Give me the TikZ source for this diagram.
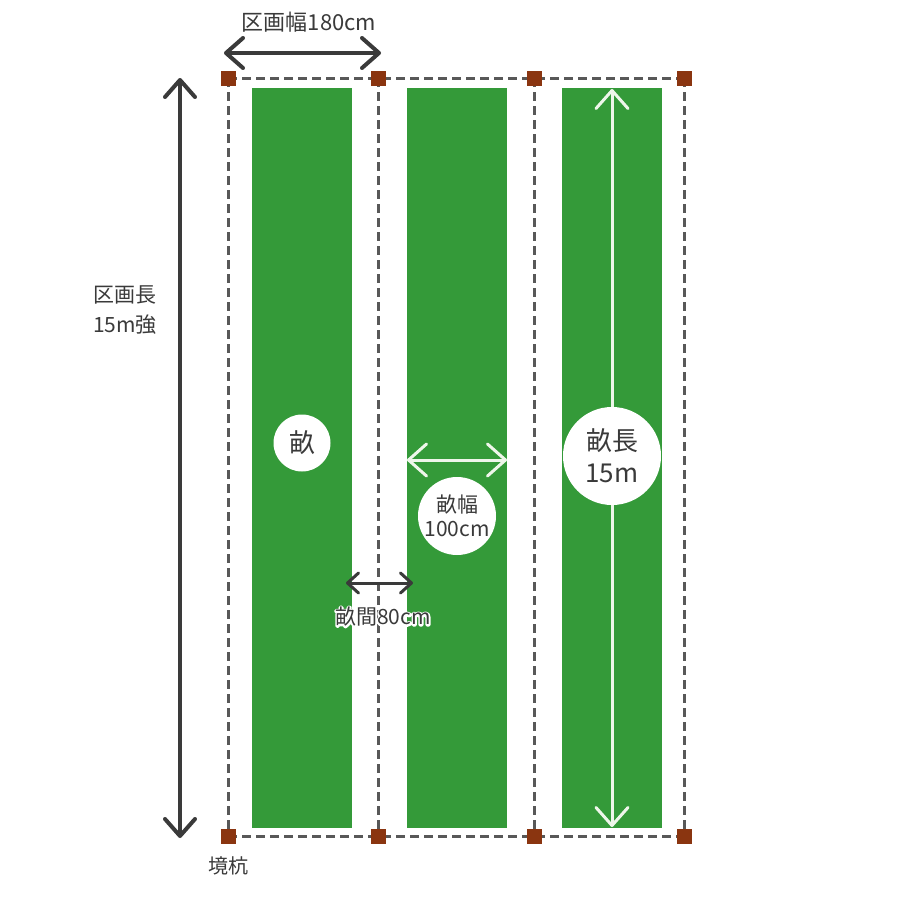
\documentclass[tikz,border=0pt]{standalone}
\usepackage{fontspec}
\setmainfont{Noto Sans CJK JP}
\usetikzlibrary{arrows.meta,positioning}
\definecolor{unegreen}{HTML}{349A39}
\definecolor{kuibrown}{HTML}{8A3510}
\definecolor{sumi}{HTML}{3A3A3A}
\definecolor{shiro}{HTML}{EEF6EA}
% white halo behind a text: stroked copy, then the normal text
\newcommand\fuchi[1]{\makebox[0pt][l]{\special{pdf:literal direct 1 1 1 RG 3.4 w 1 j 1 Tr}#1\special{pdf:literal direct 0 Tr}}#1}
\tikzset{
  une/.style={fill=unegreen,draw=none,minimum width=100pt,minimum height=740pt,inner sep=0pt},
  kui/.style={fill=kuibrown,draw=none,minimum size=15pt,inner sep=0pt},
  kukaku/.style={draw=sumi!85,line width=3pt,dash pattern=on 9pt off 5pt},
  yajirushi/.style={draw=sumi,line width=4pt,{Straight Barb[length=17pt,width=30pt,line width=4pt,round]}-{Straight Barb[length=17pt,width=30pt,line width=4pt,round]}},
  koyaji/.style={draw=sumi,line width=3pt,{Straight Barb[length=11pt,width=20pt,line width=3pt,round]}-{Straight Barb[length=11pt,width=20pt,line width=3pt,round]}},
  shiroyaji/.style={draw=shiro,line width=3pt,{Straight Barb[length=18pt,width=32pt,line width=3pt,round]}-{Straight Barb[length=18pt,width=32pt,line width=3pt,round]}},
  maru/.style={circle,fill=white,draw=none,inner sep=0pt,align=center,text=sumi},
  moji/.style={text=sumi,inner sep=0pt,align=center},
}

\begin{document}
\begin{tikzpicture}[x=1pt,y=-1pt]
  \useasboundingbox (0,0) rectangle (900,900);
  \fill[white] (0,0) rectangle (900,900);

  % beds
  \node[une] (u1) at (302,458) {};
  \node[une] (u2) at (457,458) {};
  \node[une] (u3) at (612,458) {};

  % boundary pegs
  \coordinate (k1t) at (228,78);  \coordinate (k2t) at (378,78);
  \coordinate (k3t) at (534,78);  \coordinate (k4t) at (684,78);
  \coordinate (k1b) at (228,836); \coordinate (k2b) at (378,836);
  \coordinate (k3b) at (534,836); \coordinate (k4b) at (684,836);
  \draw[kukaku] (k1t) -- (k4t);
  \draw[kukaku] (k1b) -- (k4b);
  \foreach \i in {1,...,4}
    \draw[kukaku] (k\i t) -- (k\i b);
  \foreach \k in {k1t,k2t,k3t,k4t,k1b,k2b,k3b,k4b}
    \node[kui] at (\k) {};

  % plot length
  \coordinate (hl1) at (180,78); \coordinate (hl2) at (180,838);
  \draw[yajirushi] (hl1) -- (hl2);
  \node[moji,font=\fontsize{21}{30}\selectfont] (kl) at (125,310) {区画長\\15m強};

  % plot width
  \coordinate (hw1) at (224,53); \coordinate (hw2) at (381,53);
  \draw[yajirushi] (hw1) -- (hw2);
  \node[moji,font=\fontsize{22}{24}\selectfont] (kw) at (309,22) {区画幅180cm};

  \node[moji,font=\fontsize{20}{22}\selectfont,below=20pt of k1b] (kui) {境杭};

  % bed
  \node[maru,minimum size=57pt,font=\fontsize{26}{28}\selectfont] (m1) at (302,443) {畝};

  % bed width
  \coordinate (uw1) at (407,460); \coordinate (uw2) at (507,460);
  \draw[shiroyaji] (uw1) -- (uw2);
  \node[maru,minimum size=78pt,font=\fontsize{21}{24}\selectfont] (m2) at (457,516) {畝幅\\100cm};

  % bed length
  \coordinate (ul1) at (612,89); \coordinate (ul2) at (612,827);
  \draw[shiroyaji] (ul1) -- (ul2);
  \node[maru,minimum size=98pt,font=\fontsize{26}{32}\selectfont] (m3) at (612,456) {畝長\\15m};

  % path between beds
  \coordinate (ua1) at (346,583); \coordinate (ua2) at (413,583);
  \draw[koyaji] (ua1) -- (ua2);
  \node[moji,font=\fontsize{21}{24}\selectfont] (ua) at (383,617) {\fuchi{畝間80cm}};
\end{tikzpicture}
\end{document}
